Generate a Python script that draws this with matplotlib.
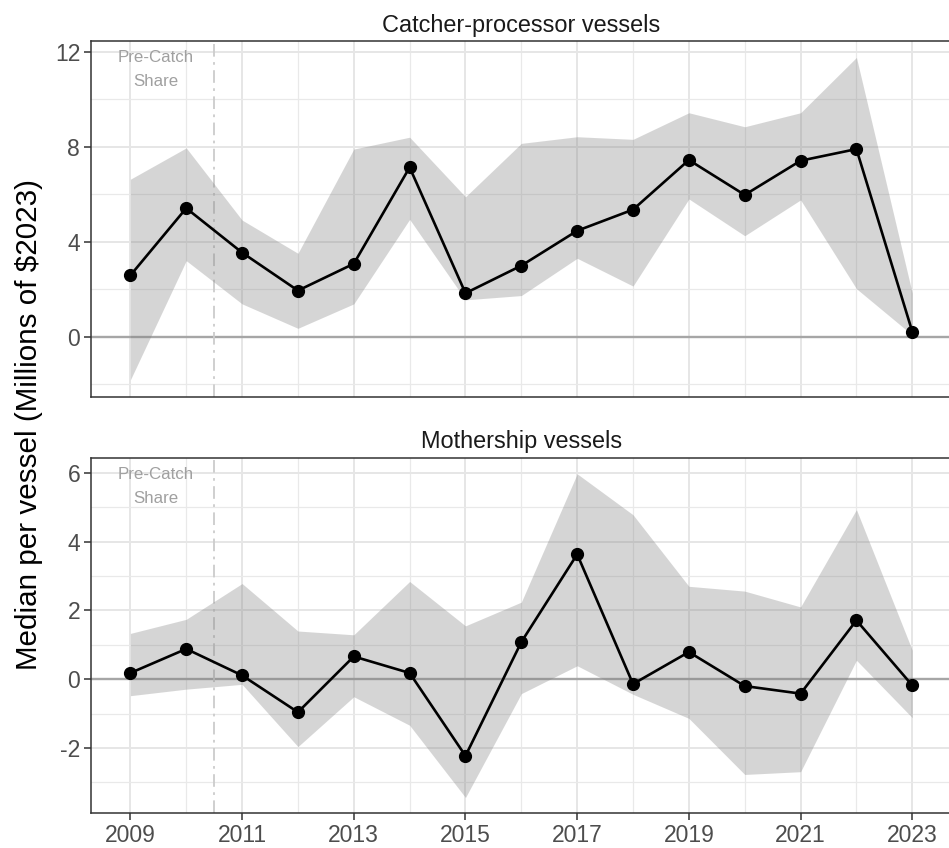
import matplotlib
matplotlib.use("Agg")
import matplotlib.pyplot as plt
from matplotlib.ticker import MultipleLocator

plt.rcParams['font.family'] = ['Liberation Sans', 'DejaVu Sans']
plt.rcParams['axes.unicode_minus'] = False

years = list(range(2009, 2024))

# catcher-processor vessels
cp_median = [2.58, 5.41, 3.54, 1.94, 3.07, 7.13, 1.83, 2.99, 4.46, 5.35, 7.44, 5.97, 7.41, 7.90, 0.21]
cp_upper = [6.63, 7.95, 4.91, 3.51, 7.90, 8.40, 5.89, 8.14, 8.42, 8.31, 9.43, 8.84, 9.43, 11.76, 1.83]
cp_lower = [-1.82, 3.20, 1.38, 0.35, 1.38, 4.94, 1.55, 1.73, 3.30, 2.13, 5.80, 4.25, 5.76, 2.02, 0.07]

# mothership vessels
ms_median = [0.18, 0.88, 0.11, -0.96, 0.66, 0.18, -2.23, 1.08, 3.63, -0.14, 0.79, -0.20, -0.42, 1.71, -0.18]
ms_upper = [1.33, 1.74, 2.78, 1.40, 1.29, 2.84, 1.55, 2.24, 5.97, 4.78, 2.70, 2.56, 2.10, 4.93, 0.84]
ms_lower = [-0.48, -0.29, -0.15, -1.96, -0.51, -1.34, -3.44, -0.42, 0.39, -0.44, -1.14, -2.77, -2.69, 0.55, -1.12]

titles = ['Catcher-processor vessels', 'Mothership vessels']
xticks = [2009, 2011, 2013, 2015, 2017, 2019, 2021, 2023]

fig = plt.figure(figsize=(9.49, 8.48), dpi=100)
ax1 = fig.add_axes([0.0962, 0.5322, 0.9063, 0.4191])
ax2 = fig.add_axes([0.0962, 0.0409, 0.9063, 0.4194])

panels = [
    (ax1, cp_median, cp_upper, cp_lower, 4, 2),
    (ax2, ms_median, ms_upper, ms_lower, 2, 1),
]

for i, (ax, med, up, lo, major, minor) in enumerate(panels):
    ax.set_facecolor('white')
    ax.xaxis.set_major_locator(MultipleLocator(2))
    ax.xaxis.set_minor_locator(MultipleLocator(1))
    ax.yaxis.set_major_locator(MultipleLocator(major))
    ax.yaxis.set_minor_locator(MultipleLocator(minor))
    ax.grid(which='major', color='#E6E6E6', lw=1.4, zorder=0)
    ax.grid(which='minor', color='#E9E9E9', lw=0.9, zorder=0)
    ax.set_axisbelow(True)

    ax.axhline(0, color='#A6A6A6', lw=1.7, zorder=1)
    ax.axvline(2010.5, color='#CCCCCC', lw=1.3, ls=(0, (7, 3, 1.5, 3)), zorder=1)
    ax.fill_between(years, lo, up, color='#7F7F7F', alpha=0.32, lw=0, zorder=2)
    ax.plot(years, med, color='black', lw=1.9, zorder=3)
    ax.plot(years, med, 'o', color='black', ms=8.5, zorder=4)

    ax.text(0.075, 0.92, 'Pre-Catch\nShare', transform=ax.transAxes, ha='center', va='center',
            color='#A0A0A0', fontsize=12.2, linespacing=1.75)

    ax.set_xlim(2008.3, 2023.7)
    ax.set_xticks(xticks)
    ax.set_title(titles[i], fontsize=16.9, color='#1A1A1A', pad=7)

    for s in ax.spines.values():
        s.set_color('#333333')
        s.set_linewidth(1.1)
    ax.tick_params(which='major', axis='y', length=5, width=1.1, color='#333333',
                   labelsize=16.5, labelcolor='#4D4D4D', pad=3)
    ax.tick_params(which='minor', length=0)

ax1.set_ylim(-2.53, 12.44)
ax2.set_ylim(-3.90, 6.44)
ax1.tick_params(which='major', axis='x', length=0, labelbottom=False)
ax2.tick_params(which='major', axis='x', length=5, width=1.1, color='#333333',
                labelsize=16.5, labelcolor='#4D4D4D', pad=3)

fig.text(0.031, 0.5, 'Median per vessel (Millions of $2023)', rotation=90,
         ha='center', va='center', fontsize=21.3, color='black')

fig.savefig('out.png', dpi=100)
